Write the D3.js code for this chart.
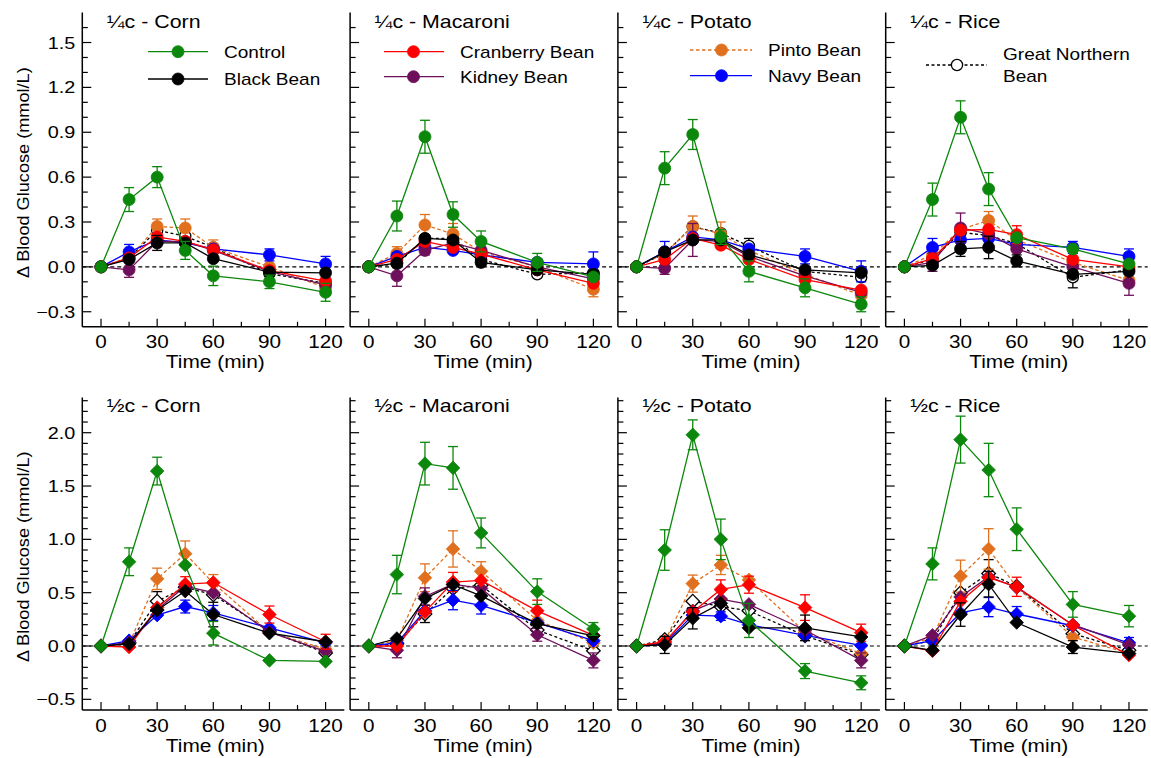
<!DOCTYPE html>
<html><head><meta charset="utf-8">
<script src="https://cdn.jsdelivr.net/npm/d3@7"></script>
<style>body{margin:0;background:#fff}svg{display:block}text{font-family:"Liberation Sans",Arial,sans-serif;fill:#000}</style>
</head><body><svg id="c" width="1151" height="758"></svg>
<script>
// ---------------- data ----------------
const times = [0, 15, 30, 45, 60, 90, 120];
const xMajorTicks = [0, 30, 60, 90, 120];
const xMinorTicks = [15, 45, 75, 105];
const topYTicks = [-0.3, 0.0, 0.3, 0.6, 0.9, 1.2, 1.5];
const bottomYTicks = [-0.5, 0.0, 0.5, 1.0, 1.5, 2.0];
const seriesNames = ["Control", "Black Bean", "Cranberry Bean", "Kidney Bean", "Pinto Bean", "Navy Bean", "Great Northern Bean"];
const seriesColors = ["#0b870b", "#000000", "#ff0000", "#6e0f5c", "#e0701e", "#0000ff", "#000000"];
const panelTitles = ["¼c - Corn", "¼c - Macaroni", "¼c - Potato", "¼c - Rice", "½c - Corn", "½c - Macaroni", "½c - Potato", "½c - Rice"];

// rows: Control, Black, Cranberry, Kidney, Pinto, Navy, Great Northern
const meanQuarterCorn = [
  [0, 0.45, 0.60, 0.11, -0.06, -0.10, -0.17],
  [0, 0.05, 0.16, 0.16, 0.055, -0.035, -0.04],
  [0, 0.06, 0.20, 0.17, 0.115, -0.025, -0.095],
  [0, -0.02, 0.17, 0.17, 0.11, -0.03, -0.12],
  [0, 0.06, 0.27, 0.26, 0.13, 0.0, -0.14],
  [0, 0.10, 0.18, 0.16, 0.12, 0.08, 0.02],
  [0, 0.06, 0.245, 0.205, 0.13, -0.045, -0.11]];
const seQuarterCorn = [
  [0, 0.08, 0.07, 0.06, 0.065, 0.045, 0.06],
  [0, 0, 0.05, 0, 0, 0, 0],
  [0, 0, 0, 0, 0, 0, 0],
  [0, 0.05, 0, 0, 0, 0, 0],
  [0, 0, 0.05, 0.06, 0.05, 0, 0],
  [0, 0.05, 0, 0, 0, 0.04, 0.05],
  [0, 0, 0, 0, 0, 0, 0]];

const meanQuarterMacaroni = [
  [0, 0.34, 0.87, 0.35, 0.17, 0.03, -0.067],
  [0, 0.025, 0.19, 0.18, 0.03, -0.02, -0.05],
  [0, 0.05, 0.17, 0.13, 0.085, -0.02, -0.11],
  [0, -0.06, 0.11, 0.16, 0.11, 0.0, -0.08],
  [0, 0.09, 0.28, 0.22, 0.10, 0.0, -0.15],
  [0, 0.07, 0.13, 0.11, 0.08, 0.03, 0.02],
  [0, 0.02, 0.19, 0.19, 0.05, -0.05, -0.04]];
const seQuarterMacaroni = [
  [0, 0.10, 0.11, 0.085, 0.07, 0.06, 0],
  [0, 0, 0, 0, 0, 0, 0],
  [0, 0, 0, 0, 0, 0, 0],
  [0, 0.07, 0.03, 0, 0, 0, 0],
  [0, 0.045, 0.07, 0.07, 0, 0, 0.05],
  [0, 0, 0, 0, 0, 0, 0.08],
  [0, 0, 0, 0, 0, 0, 0]];

const meanQuarterPotato = [
  [0, 0.66, 0.885, 0.20, -0.03, -0.14, -0.25],
  [0, 0.10, 0.18, 0.18, 0.08, -0.02, -0.04],
  [0, 0.05, 0.19, 0.145, 0.05, -0.085, -0.155],
  [0, -0.01, 0.18, 0.17, 0.07, -0.06, -0.17],
  [0, 0.09, 0.27, 0.22, 0.11, -0.05, -0.19],
  [0, 0.10, 0.20, 0.18, 0.12, 0.07, -0.03],
  [0, 0.09, 0.27, 0.225, 0.14, -0.03, -0.07]];
const seQuarterPotato = [
  [0, 0.11, 0.10, 0.05, 0.07, 0.06, 0.05],
  [0, 0, 0, 0, 0, 0, 0],
  [0, 0, 0, 0, 0, 0, 0],
  [0, 0.04, 0.11, 0, 0, 0, 0],
  [0, 0, 0.07, 0.08, 0, 0, 0],
  [0, 0.07, 0, 0, 0, 0.05, 0.07],
  [0, 0, 0, 0, 0.05, 0, 0]];

const meanQuarterRice = [
  [0, 0.45, 1.00, 0.52, 0.195, 0.12, 0.02],
  [0, 0.01, 0.12, 0.13, 0.04, -0.05, -0.03],
  [0, 0.055, 0.245, 0.25, 0.215, 0.05, 0.0],
  [0, 0.03, 0.26, 0.22, 0.12, 0.0, -0.11],
  [0, 0.08, 0.25, 0.31, 0.18, 0.03, -0.09],
  [0, 0.13, 0.18, 0.19, 0.15, 0.13, 0.07],
  [0, 0.05, 0.23, 0.21, 0.155, -0.07, -0.02]];
const seQuarterRice = [
  [0, 0.11, 0.11, 0.11, 0, 0, 0],
  [0, 0, 0.05, 0.075, 0.04, 0, 0],
  [0, 0, 0, 0, 0.06, 0, 0],
  [0, 0.06, 0.10, 0, 0, 0, 0.08],
  [0, 0, 0, 0.06, 0, 0, 0],
  [0, 0.06, 0, 0, 0, 0.04, 0.05],
  [0, 0, 0, 0, 0, 0.07, 0]];

const meanHalfCorn = [
  [0, 0.79, 1.64, 0.76, 0.12, -0.135, -0.145],
  [0, 0.02, 0.335, 0.515, 0.295, 0.12, 0.04],
  [0, -0.01, 0.36, 0.58, 0.595, 0.295, 0.04],
  [0, 0.03, 0.34, 0.56, 0.50, 0.13, -0.05],
  [0, 0.02, 0.63, 0.865, 0.59, 0.13, -0.03],
  [0, 0.05, 0.29, 0.37, 0.31, 0.17, 0.03],
  [0, 0.03, 0.42, 0.55, 0.48, 0.14, -0.065]];
const seHalfCorn = [
  [0, 0.13, 0.13, 0, 0.11, 0, 0],
  [0, 0, 0, 0, 0.115, 0, 0],
  [0, 0, 0, 0.07, 0, 0.08, 0.07],
  [0, 0, 0, 0, 0, 0, 0],
  [0, 0, 0.10, 0.12, 0.08, 0, 0],
  [0, 0, 0, 0.06, 0.07, 0, 0],
  [0, 0, 0.09, 0, 0, 0, 0]];

const meanHalfMacaroni = [
  [0, 0.67, 1.71, 1.67, 1.06, 0.51, 0.16],
  [0, 0.07, 0.445, 0.575, 0.47, 0.21, 0.095],
  [0, 0.0, 0.32, 0.60, 0.615, 0.33, 0.10],
  [0, -0.04, 0.465, 0.58, 0.54, 0.105, -0.135],
  [0, 0.05, 0.64, 0.91, 0.70, 0.24, 0.03],
  [0, 0.03, 0.33, 0.43, 0.38, 0.22, 0.05],
  [0, 0.02, 0.30, 0.54, 0.57, 0.15, -0.045]];
const seHalfMacaroni = [
  [0, 0.18, 0.20, 0.20, 0.14, 0.12, 0.06],
  [0, 0, 0, 0, 0, 0, 0],
  [0, 0, 0, 0.09, 0, 0.10, 0],
  [0, 0.07, 0.08, 0, 0, 0.06, 0.07],
  [0, 0, 0.13, 0.17, 0.09, 0, 0],
  [0, 0, 0, 0.09, 0.08, 0, 0],
  [0, 0, 0.08, 0, 0, 0, 0]];

const meanHalfPotato = [
  [0, 0.90, 1.98, 1.00, 0.24, -0.235, -0.345],
  [0, 0.01, 0.26, 0.40, 0.17, 0.17, 0.085],
  [0, 0.04, 0.32, 0.53, 0.575, 0.36, 0.125],
  [0, 0.03, 0.33, 0.44, 0.39, 0.15, -0.135],
  [0, 0.04, 0.585, 0.76, 0.62, 0.13, -0.07],
  [0, 0.02, 0.29, 0.28, 0.20, 0.10, 0.005],
  [0, 0.06, 0.42, 0.37, 0.33, 0.095, -0.08]];
const seHalfPotato = [
  [0, 0.19, 0.14, 0.19, 0.16, 0.07, 0.065],
  [0, 0.08, 0.10, 0, 0, 0.12, 0],
  [0, 0, 0, 0.09, 0.08, 0.12, 0.08],
  [0, 0, 0, 0, 0, 0, 0.07],
  [0, 0, 0.08, 0.09, 0, 0, 0],
  [0, 0, 0, 0.04, 0, 0, 0],
  [0, 0, 0, 0, 0, 0, 0]];

const meanHalfRice = [
  [0, 0.77, 1.935, 1.65, 1.095, 0.39, 0.28],
  [0, -0.04, 0.295, 0.58, 0.22, -0.01, -0.07],
  [0, -0.045, 0.42, 0.64, 0.555, 0.195, -0.085],
  [0, 0.10, 0.46, 0.65, 0.55, 0.20, 0.01],
  [0, 0.08, 0.655, 0.91, 0.55, 0.085, -0.07],
  [0, 0.05, 0.31, 0.365, 0.30, 0.19, 0.03],
  [0, 0.05, 0.50, 0.68, 0.56, 0.115, -0.04]];
const seHalfRice = [
  [0, 0.15, 0.22, 0.25, 0.20, 0.12, 0.10],
  [0, 0, 0.11, 0.12, 0, 0.06, 0],
  [0, 0, 0, 0, 0.09, 0, 0],
  [0, 0, 0, 0, 0, 0, 0],
  [0, 0, 0.15, 0.19, 0, 0, 0],
  [0, 0, 0, 0.09, 0.07, 0, 0.05],
  [0, 0, 0, 0.13, 0, 0, 0]];

const panelMeans = [meanQuarterCorn, meanQuarterMacaroni, meanQuarterPotato, meanQuarterRice,
                    meanHalfCorn, meanHalfMacaroni, meanHalfPotato, meanHalfRice];
const panelSE = [seQuarterCorn, seQuarterMacaroni, seQuarterPotato, seQuarterRice,
                 seHalfCorn, seHalfMacaroni, seHalfPotato, seHalfRice];

// ---------------- layout ----------------
const svg = d3.select("#c");
const drawOrder = [6, 4, 5, 3, 2, 1, 0];
const dashFor = [null, null, null, null, "3.5,2.5", null, "3,2.5"];
const rows = [
  {bottom: 326.7, top: 12.6, domain: [-0.4, 1.7], ticks: topYTicks, minorFrom: -0.3, minorTo: 1.6, titleY: 28.3},
  {bottom: 710, top: 397.5, domain: [-0.6, 2.33], ticks: bottomYTicks, minorFrom: -0.5, minorTo: 2.3, titleY: 412}
];
const panelLeft0 = 82.3, panelStep = 267.8, panelW = 262;

function txt(g, x, y, s, size, anchor, sx, rot) {
  return g.append("text")
    .attr("transform", `translate(${x},${y}) rotate(${rot || 0}) scale(${sx || 1},1)`)
    .attr("text-anchor", anchor || "start")
    .style("font-size", size + "px")
    .text(s);
}

const diamond = (cx, cy, r) => `M${cx},${cy - r}L${cx + r},${cy}L${cx},${cy + r}L${cx - r},${cy}Z`;

function marker(g, cx, cy, k, isDiamond) {
  const open = k === 6;
  const fill = open ? "#fff" : seriesColors[k];
  const stroke = open ? "#000" : seriesColors[k];
  if (isDiamond) {
    g.append("path").attr("d", diamond(cx, cy, 6.8)).attr("fill", fill).attr("stroke", stroke).attr("stroke-width", open ? 1.3 : 0.8);
  } else {
    g.append("circle").attr("cx", cx).attr("cy", cy).attr("r", open ? 5.6 : 6).attr("fill", fill).attr("stroke", stroke).attr("stroke-width", open ? 1.3 : 0.8);
  }
}

for (let p = 0; p < 8; p++) {
  const row = rows[Math.floor(p / 4)];
  const col = p % 4;
  const left = panelLeft0 + col * panelStep;
  const x = d3.scaleLinear().domain([-10, 130]).range([left, left + panelW]);
  const y = d3.scaleLinear().domain(row.domain).range([row.bottom, row.top]);
  const g = svg.append("g");
  const isDiamond = p >= 4;

  // axes lines
  g.append("line").attr("x1", left).attr("x2", left).attr("y1", row.top).attr("y2", row.bottom).attr("stroke", "#000").attr("stroke-width", 1.5);
  g.append("line").attr("x1", left).attr("x2", left + panelW).attr("y1", row.bottom).attr("y2", row.bottom).attr("stroke", "#000").attr("stroke-width", 1.5);

  // y ticks (inward)
  const minors = d3.range(Math.round(row.minorFrom * 10), Math.round(row.minorTo * 10) + 1).map(v => v / 10);
  minors.forEach(v => {
    const major = row.ticks.some(t => Math.abs(t - v) < 1e-6);
    g.append("line").attr("x1", left).attr("x2", left + (major ? 9 : 5.5)).attr("y1", y(v)).attr("y2", y(v)).attr("stroke", "#000").attr("stroke-width", 1.2);
  });
  if (col === 0) {
    row.ticks.forEach(v => {
      txt(g, left - 7, y(v) + 6, d3.format(".1f")(v), 16.5, "end", 1.2);
    });
    txt(g, 28.5, (row.top + row.bottom) / 2 + 3, "Δ Blood Glucose (mmol/L)", 16.5, "middle", 1.1, -90);
  }
  // x ticks (inward)
  xMajorTicks.forEach(v => {
    g.append("line").attr("x1", x(v)).attr("x2", x(v)).attr("y1", row.bottom).attr("y2", row.bottom - 8).attr("stroke", "#000").attr("stroke-width", 1.2);
    txt(g, x(v), row.bottom + 21.5, String(v), 18, "middle", 1.15);
  });
  xMinorTicks.forEach(v => {
    g.append("line").attr("x1", x(v)).attr("x2", x(v)).attr("y1", row.bottom).attr("y2", row.bottom - 5).attr("stroke", "#000").attr("stroke-width", 1.2);
  });
  txt(g, x(60) + 2, row.bottom + 41.5, "Time (min)", 18.5, "middle", 1.13);

  // title
  txt(g, left + 24.5, row.titleY, panelTitles[p], 17.5, "start", 1.22);

  // zero reference line
  g.append("line").attr("x1", left).attr("x2", left + panelW).attr("y1", y(0)).attr("y2", y(0))
    .attr("stroke", "#000").attr("stroke-width", 1.2).attr("stroke-dasharray", "4,3");

  // series
  const means = panelMeans[p], ses = panelSE[p];
  drawOrder.forEach(k => {
    const sg = g.append("g");
    const color = seriesColors[k];
    const pts = times.map((t, i) => [x(t), y(means[k][i])]);
    sg.append("path").attr("d", d3.line()(pts)).attr("fill", "none").attr("stroke", color)
      .attr("stroke-width", 1.3).attr("stroke-dasharray", dashFor[k]);
    times.forEach((t, i) => {
      const se = ses[k][i];
      if (se > 0) {
        const cx = x(t), y1 = y(means[k][i] - se), y2 = y(means[k][i] + se);
        sg.append("line").attr("x1", cx).attr("x2", cx).attr("y1", y1).attr("y2", y2).attr("stroke", color).attr("stroke-width", 1.3);
        [y1, y2].forEach(yy => sg.append("line").attr("x1", cx - 5).attr("x2", cx + 5).attr("y1", yy).attr("y2", yy).attr("stroke", color).attr("stroke-width", 1.3));
      }
    });
    times.forEach((t, i) => marker(sg, x(t), y(means[k][i]), k, isDiamond));
  });
}

// ---------------- legends ----------------
const legendItems = [
  {k: 0, x1: 148, x2: 208, mx: 178, y: 51.7, tx: 224, lines: ["Control"]},
  {k: 1, x1: 148, x2: 208, mx: 178, y: 79, tx: 224, lines: ["Black Bean"]},
  {k: 2, x1: 384, x2: 444, mx: 413.5, y: 51.7, tx: 460, lines: ["Cranberry Bean"]},
  {k: 3, x1: 384, x2: 444, mx: 413.5, y: 76.7, tx: 460, lines: ["Kidney Bean"]},
  {k: 4, x1: 690, x2: 752, mx: 721.5, y: 50, tx: 768, lines: ["Pinto Bean"]},
  {k: 5, x1: 690, x2: 752, mx: 721.5, y: 75.7, tx: 768, lines: ["Navy Bean"]},
  {k: 6, x1: 926, x2: 987, mx: 957, y: 65, tx: 1003, lines: ["Great Northern", "Bean"]}
];
const lg = svg.append("g");
legendItems.forEach(it => {
  lg.append("line").attr("x1", it.x1).attr("x2", it.x2).attr("y1", it.y).attr("y2", it.y)
    .attr("stroke", seriesColors[it.k]).attr("stroke-width", 1.3).attr("stroke-dasharray", dashFor[it.k]);
  marker(lg, it.mx, it.y, it.k, false);
  if (it.lines.length === 1) {
    txt(lg, it.tx, it.y + 6, it.lines[0], 17, "start", 1.12);
  } else {
    txt(lg, it.tx, it.y - 5, it.lines[0], 17, "start", 1.12);
    txt(lg, it.tx, it.y + 17, it.lines[1], 17, "start", 1.12);
  }
});
</script></body></html>
